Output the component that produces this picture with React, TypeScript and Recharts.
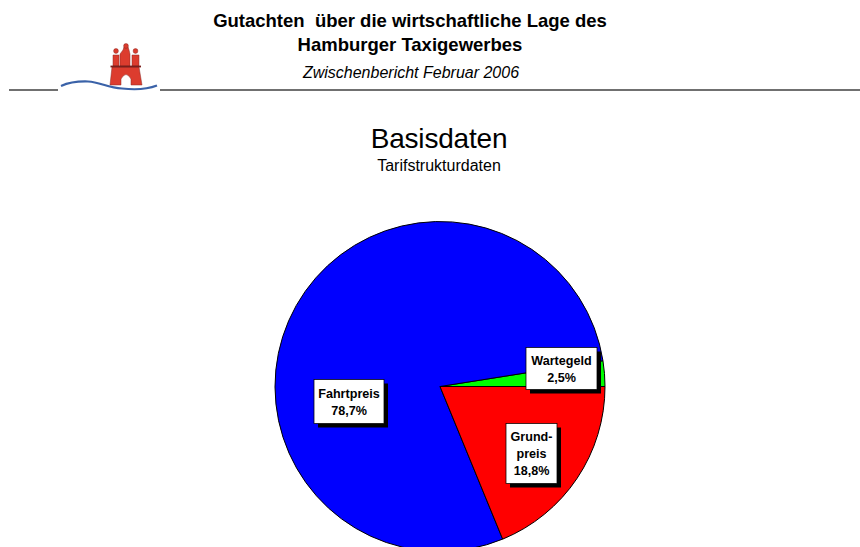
import { Pie, PieChart } from "recharts";

const categories = ["Wartegeld", "Fahrtpreis", "Grundpreis"];
const shares = [2.5, 78.7, 18.8];
const shareLabels = ["2,5%", "78,7%", "18,8%"];
const sliceColors = ["#00ff00", "#0000ff", "#ff0000"];
const labelLines = [["Wartegeld"], ["Fahrtpreis"], ["Grund-", "preis"]];

const data = categories.map((name, i) => ({ name, value: shares[i], fill: sliceColors[i] }));

// label box placement relative to the pie centre
const boxes = [
  { dx: 86, dy: -39, w: 71, h: 42 },
  { dx: -126, dy: -7, w: 70, h: 44 },
  { dx: 66, dy: 37, w: 51, h: 60 },
];

const FONT = "'Liberation Sans', Arial, sans-serif";
const LINE_H = 17;

const renderLabel = ({ cx, cy, index }: any) => {
  const b = boxes[index];
  const x = cx + b.dx;
  const y = cy + b.dy;
  const lines = [...labelLines[index], shareLabels[index]];
  const top = y + (b.h - lines.length * LINE_H) / 2 + 13;
  return (
    <g key={index}>
      <rect x={x + 4} y={y + 4} width={b.w} height={b.h} fill="#000" />
      <rect x={x} y={y} width={b.w} height={b.h} fill="#fff" stroke="#000" strokeWidth={0.75} />
      {lines.map((line, i) => (
        <text
          key={line}
          x={x + b.w / 2}
          y={top + i * LINE_H}
          textAnchor="middle"
          fontFamily={FONT}
          fontSize={12.6}
          fontWeight="bold"
          fill="#000"
        >
          {line}
        </text>
      ))}
    </g>
  );
};

const Logo = () => (
  <g fill="#dc3c2e" stroke="#8c2a25" strokeWidth={0.5}>
    <path d="M113 66 L113 55 L119 55 L119 66 Z" />
    <path d="M120 66 L120 54 L123 50 L124 47 L128 47 L129 50 L130 54 L130 66 Z" />
    <path d="M132 66 L132 55 L139 55 L139 66 Z" />
    <circle cx={116} cy={51} r={2.4} />
    <circle cx={126} cy={46} r={2.4} />
    <circle cx={135.5} cy={51} r={2.4} />
    <path d="M112 67 L139 67 L142 85 L131 85 L131 79 Q126 70 121 79 L121 85 L110 85 Z" />
    <path d="M110.5 66.5 L141 66.5" stroke="#7a1f1c" strokeWidth={1.8} />
    <path
      d="M61 86 Q72 81 88 81.5 C100 82 108 88 122 88.5 C135 90 148 89 157 85.5"
      fill="none"
      stroke="#3a62a8"
      strokeWidth={2.2}
    />
  </g>
);

export default function App() {
  return (
    <div style={{ position: "absolute", left: 0, top: 0, width: 860, height: 547, overflow: "hidden", background: "#fff" }}>
      <PieChart width={860} height={547} margin={{ top: 0, right: 0, bottom: 0, left: 0 }}>
        <text x={410} y={27} textAnchor="middle" fontFamily={FONT} fontSize={18.5} fontWeight="bold" fill="#000" xmlSpace="preserve">
          Gutachten  über die wirtschaftliche Lage des
        </text>
        <text x={410} y={51} textAnchor="middle" fontFamily={FONT} fontSize={18.5} fontWeight="bold" fill="#000">
          Hamburger Taxigewerbes
        </text>
        <text x={411} y={78} textAnchor="middle" fontFamily={FONT} fontSize={16} fontStyle="italic" fill="#000">
          Zwischenbericht Februar 2006
        </text>
        <line x1={9} y1={90} x2={58} y2={90} stroke="#707070" strokeWidth={2} />
        <line x1={160} y1={90} x2={860} y2={90} stroke="#707070" strokeWidth={2} />
        <Logo />
        <text x={439} y={148} textAnchor="middle" fontFamily={FONT} fontSize={28} letterSpacing={-0.2} fill="#000">
          Basisdaten
        </text>
        <text x={439} y={171} textAnchor="middle" fontFamily={FONT} fontSize={16} fill="#000">
          Tarifstrukturdaten
        </text>
        <Pie
          data={data}
          dataKey="value"
          nameKey="name"
          cx={440}
          cy={386.5}
          outerRadius={165}
          innerRadius={0}
          startAngle={0}
          endAngle={360}
          stroke="#000"
          strokeWidth={1}
          label={renderLabel}
          labelLine={false}
          isAnimationActive={false}
        />
      </PieChart>
    </div>
  );
}
